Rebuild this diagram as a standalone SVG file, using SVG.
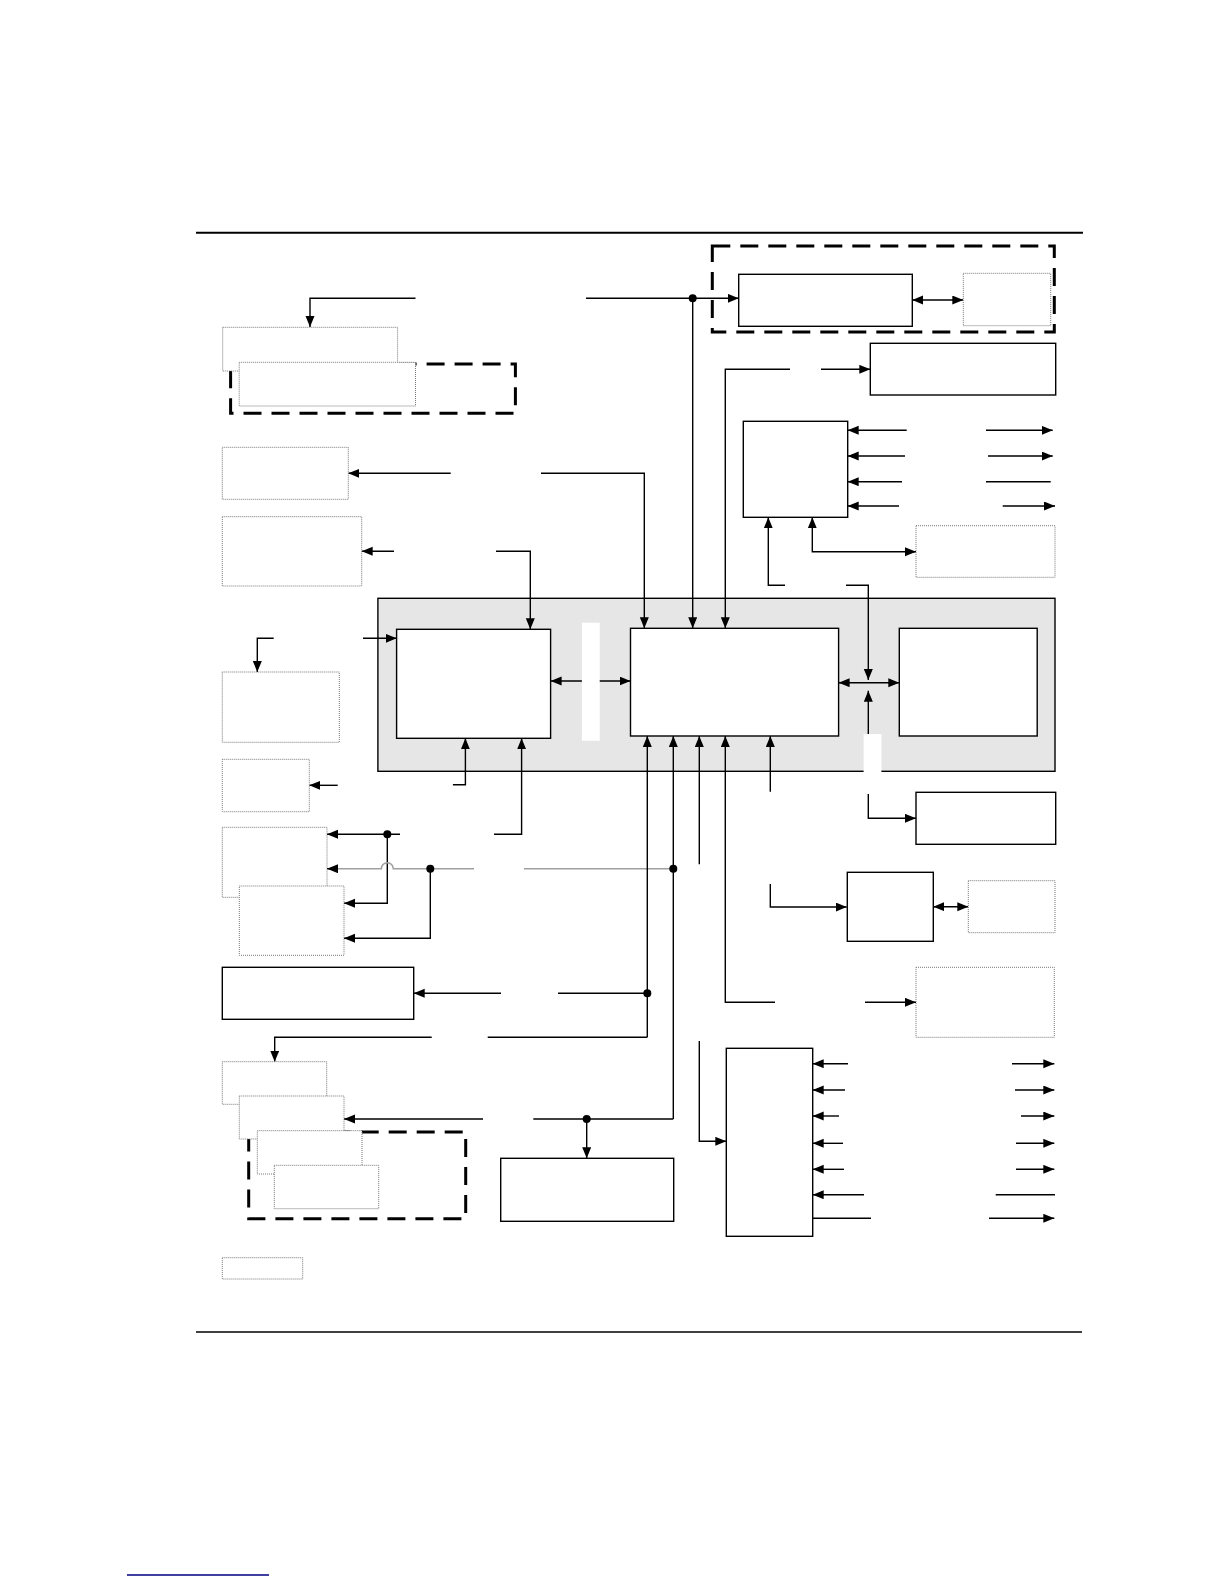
<svg xmlns="http://www.w3.org/2000/svg" width="1224" height="1584" viewBox="0 0 1224 1584">
<style>
.s{fill:#fff;stroke:#000;stroke-width:1.4}
.d{fill:#fff;stroke:#777;stroke-width:1;stroke-dasharray:1 1}
.g{fill:none;stroke:#000;stroke-width:3;stroke-dasharray:18 10}
.c{fill:none;stroke:#000;stroke-width:1.4}
.gr{fill:none;stroke:#a0a0a0;stroke-width:1.6}
.a{marker-end:url(#ah)}
.b{marker-start:url(#ah);marker-end:url(#ah)}
.dot{fill:#000}
</style>
<defs>
<marker id="ah" markerUnits="userSpaceOnUse" markerWidth="12" markerHeight="10" refX="11" refY="4.5" orient="auto-start-reverse"><path d="M0,0 L11,4.5 L0,9 z" fill="#000"/></marker>
</defs>
<rect width="1224" height="1584" fill="#fff"/>
<line x1="196" y1="232.7" x2="1083" y2="232.7" stroke="#000" stroke-width="2"/>
<line x1="196" y1="1332" x2="1082" y2="1332" stroke="#000" stroke-width="1.4"/>
<line x1="127" y1="1575" x2="269" y2="1575" stroke="#000080" stroke-width="1.4"/>

<g id="container"><rect x="377.9" y="598.3" width="677.1" height="173" fill="#e6e6e6" stroke="#000" stroke-width="1.4"/></g>
<g id="dash-tr"><rect class="g" x="712.3" y="246" width="342" height="86"/></g>
<g id="dash-tl"><rect class="g" x="230.6" y="364" width="284.8" height="49.3"/></g>
<g id="dash-bl"><rect class="g" x="248.7" y="1132" width="217" height="86.7"/></g>

<g id="connectors">
<path class="c a" d="M415.5,298.3 H310 V327"/>
<path class="c" d="M586,298.3 H692.7"/>
<path class="c a" d="M692.7,298.3 H738.7"/>
<path class="c a" d="M692.7,298.3 V628.3"/>
<path class="c b" d="M912.3,300 H963.3"/>
<path class="c a" d="M790,369.3 H725.3 V628.3"/>
<path class="c a" d="M821,369.3 H870.3"/>
<path class="c a" d="M906.7,430.3 H847.7"/>
<path class="c a" d="M905,456 H847.7"/>
<path class="c a" d="M902,481.7 H847.7"/>
<path class="c a" d="M899,506 H847.7"/>
<path class="c a" d="M986,430.3 H1052.7"/>
<path class="c a" d="M988,456 H1052.7"/>
<path class="c" d="M986,481.7 H1050.7"/>
<path class="c a" d="M1002.7,506 H1055"/>
<path class="c a" d="M785,585.3 H768.3 V517.3"/>
<path class="c a" d="M846,585.3 H868.3 V680"/>
<path class="c b" d="M916,551.7 H812.3 V517.3"/>
<path class="c a" d="M450.7,473.3 H348.3"/>
<path class="c a" d="M541,473.3 H644.3 V628.3"/>
<path class="c a" d="M394,551.3 H361.7"/>
<path class="c a" d="M496,551.3 H530.3 V629.3"/>
<path class="c a" d="M363,638.3 H396.6"/>
<path class="c a" d="M273.7,638.3 H257.3 V672"/>
<path class="c b" d="M550.6,681 H630.5"/>
<path class="c b" d="M838.6,682.7 H899.3"/>
<path class="c a" d="M868.3,734 V690.7"/>
<path class="c a" d="M452.9,784.7 H465.4 V738.3"/>
<path class="c a" d="M337.7,785.3 H309.3"/>
<path class="c a" d="M494,834.3 H521.6 V738.3"/>
<path class="c a" d="M400,834.3 H327"/>
<path class="c a" d="M387.3,834.3 V903.3 H344"/>
<path class="gr" d="M474,868.7 H393.3 A6,6 0 0 0 381.3,868.7 H336"/>
<path class="c a" d="M338,868.7 H327"/>
<path class="c a" d="M430.3,868.7 V938.3 H344"/>
<path class="gr" d="M524,868.7 H673.3"/>
<path class="c a" d="M673.3,1119 V736"/>
<path class="c" d="M533.3,1119 H673.3"/>
<path class="c a" d="M483,1119 H344"/>
<path class="c a" d="M586.7,1119 V1158.3"/>
<path class="c a" d="M647.3,1037.3 V736"/>
<path class="c" d="M558,993.3 H647.3"/>
<path class="c a" d="M501,993.3 H413.7"/>
<path class="c" d="M487.7,1037.3 H647.3"/>
<path class="c a" d="M431.7,1037.3 H274.7 V1061.7"/>
<path class="c a" d="M699.3,864.3 V736"/>
<path class="c a" d="M775,1002.3 H725.3 V736"/>
<path class="c a" d="M865,1002.3 H916"/>
<path class="c a" d="M770.3,791.7 V736"/>
<path class="c a" d="M868.3,794 V818.3 H916"/>
<path class="c a" d="M770.3,884 V907 H846.7"/>
<path class="c b" d="M933.3,906.7 H968.3"/>
<path class="c a" d="M699.3,1041 V1141.3 H726.3"/>
<path class="c a" d="M848,1063.7 H812.7"/>
<path class="c a" d="M845,1090 H812.7"/>
<path class="c a" d="M839,1116 H812.7"/>
<path class="c a" d="M843,1143.3 H812.7"/>
<path class="c a" d="M844,1169.3 H812.7"/>
<path class="c a" d="M864,1194.7 H812.7"/>
<path class="c" d="M812.7,1218.3 H871"/>
<path class="c a" d="M1012,1063.7 H1054.3"/>
<path class="c a" d="M1015,1090 H1054.3"/>
<path class="c a" d="M1021,1116 H1054.3"/>
<path class="c a" d="M1016,1143.3 H1054.3"/>
<path class="c a" d="M1016,1169.3 H1054.3"/>
<path class="c" d="M995.7,1194.7 H1055"/>
<path class="c a" d="M989,1218.3 H1054.3"/>
<circle class="dot" cx="692.7" cy="298.3" r="4"/>
<circle class="dot" cx="387.3" cy="834.3" r="4"/>
<circle class="dot" cx="430.3" cy="868.7" r="4"/>
<circle class="dot" cx="673.3" cy="868.7" r="4"/>
<circle class="dot" cx="647.3" cy="993.3" r="4"/>
<circle class="dot" cx="586.7" cy="1119" r="4"/>
</g>

<g id="bar1"><rect x="581.9" y="622.7" width="17.8" height="118" fill="#fff"/></g>
<g id="bar2"><rect x="863.6" y="734" width="17.8" height="39" fill="#fff"/></g>

<g id="boxA"><rect class="s" x="738.7" y="274.3" width="173.6" height="52"/></g>
<g id="boxA2"><rect class="d" x="963.3" y="273.3" width="87.4" height="52.4"/></g>
<g id="boxB"><rect class="s" x="870.3" y="343.3" width="185.4" height="51.7"/></g>
<g id="boxC"><rect class="s" x="743.3" y="421.3" width="104.4" height="96"/></g>
<g id="boxD"><rect class="d" x="916" y="525.7" width="139" height="51.6"/></g>
<g id="box1"><rect class="d" x="222.7" y="327.3" width="174.9" height="43.7"/></g>
<g id="box2"><rect class="d" x="239.2" y="362.3" width="176.3" height="43.7"/></g>
<g id="boxE"><rect class="d" x="222.3" y="447.3" width="126" height="52"/></g>
<g id="boxF"><rect class="d" x="222.3" y="516.7" width="139.4" height="69.3"/></g>
<g id="boxG"><rect class="s" x="396.6" y="629.3" width="154" height="109"/></g>
<g id="boxH"><rect class="s" x="630.5" y="628.3" width="208.1" height="107.7"/></g>
<g id="boxI"><rect class="s" x="899.3" y="628.3" width="137.9" height="107.7"/></g>
<g id="boxJ"><rect class="d" x="222.3" y="672" width="117" height="70.3"/></g>
<g id="boxK"><rect class="d" x="222.3" y="759.3" width="87" height="52.4"/></g>
<g id="boxL"><rect class="d" x="222.3" y="827.3" width="104.7" height="70"/></g>
<g id="boxM"><rect class="d" x="239.3" y="886" width="104.7" height="69.3"/></g>
<g id="boxN"><rect class="s" x="222.3" y="967.3" width="191.4" height="52"/></g>
<g id="boxO"><rect class="d" x="222.3" y="1061.7" width="104.4" height="42.6"/></g>
<g id="boxP"><rect class="d" x="239.3" y="1096" width="104.7" height="43"/></g>
<g id="boxQ"><rect class="d" x="257.3" y="1130.7" width="104.7" height="43.3"/></g>
<g id="boxR"><rect class="d" x="274.3" y="1165.3" width="104.4" height="43.4"/></g>
<g id="boxS"><rect class="s" x="500.7" y="1158.3" width="173" height="63"/></g>
<g id="boxT"><rect class="d" x="222.3" y="1257.7" width="80.4" height="21.3"/></g>
<g id="boxW"><rect class="s" x="916" y="792.3" width="139.7" height="52"/></g>
<g id="boxX"><rect class="s" x="847.3" y="872.3" width="86" height="69"/></g>
<g id="boxY"><rect class="d" x="968.3" y="880.7" width="86.7" height="52"/></g>
<g id="boxV"><rect class="d" x="916" y="967.3" width="138.3" height="70"/></g>
<g id="boxU"><rect class="s" x="726.3" y="1048.3" width="86.4" height="188"/></g>
</svg>
